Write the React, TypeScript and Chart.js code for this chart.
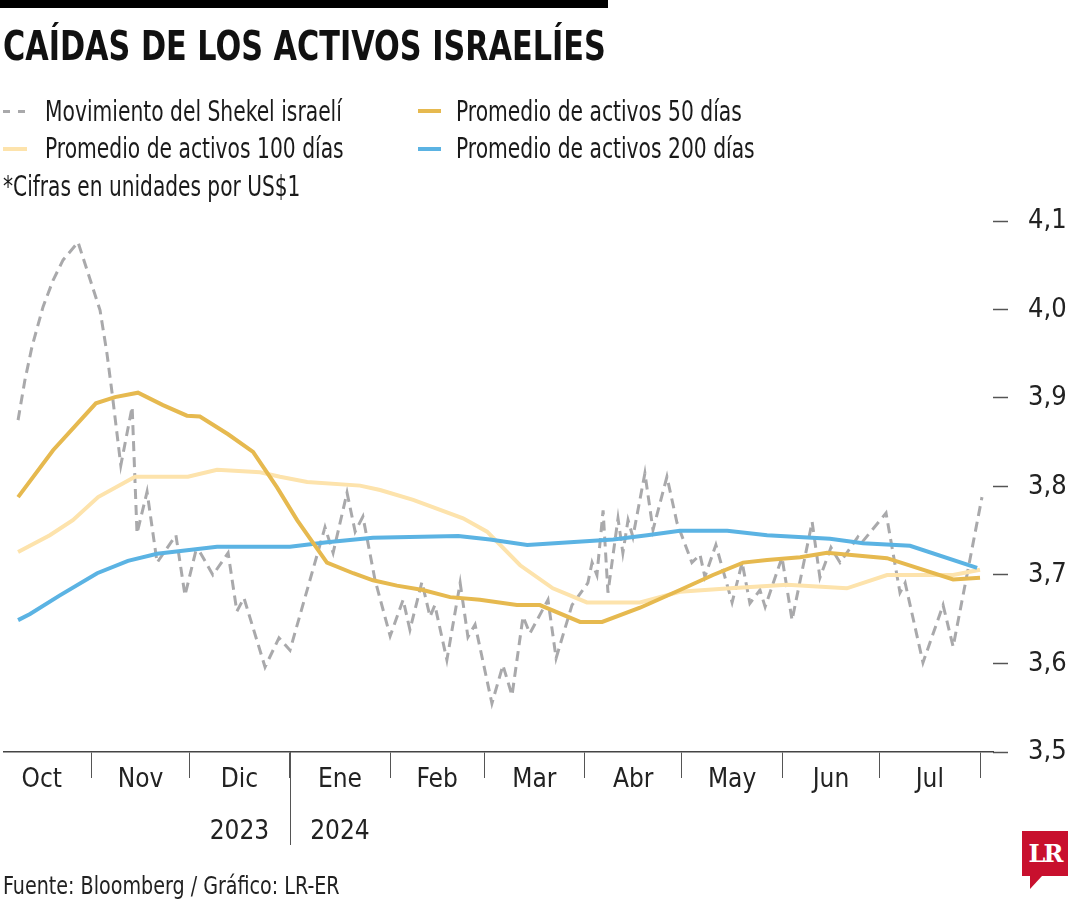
import React, { useEffect, useRef } from 'react';
import { Chart, registerables } from 'chart.js';

Chart.register(...registerables);

// ---------- DATA (x = days since 1 Oct 2023, y = shekels per US$1) ----------
const monthLabels = ['Oct', 'Nov', 'Dic', 'Ene', 'Feb', 'Mar', 'Abr', 'May', 'Jun', 'Jul'];
const yearLabels = ['', '', '2023', '2024', '', '', '', '', '', ''];
const monthStartDays = [0, 31, 61, 92, 123, 152, 183, 213, 244, 274, 305];
const yearStartDay = 92;

const shekelDays = [
  8.2, 10.3, 12.5, 15.9, 19.0, 22.1, 26.7, 29.8, 33.5, 35.6, 37.2, 39.9, 43.4, 44.9, 48.0,
  51.1, 56.9, 59.7, 63.1, 64.3, 68.3, 73.0, 75.7, 77.9, 84.4, 88.7, 92.1, 102.9, 105.4, 109.7,
  112.2, 114.6, 118.3, 123.0, 127.0, 129.1, 132.8, 135.3, 136.8, 140.5, 144.6, 147.0, 149.2,
  154.4, 157.8, 160.6, 164.0, 166.1, 171.7, 174.2, 179.1, 184.0, 185.3, 186.8, 188.7, 190.2,
  193.3, 194.8, 196.4, 197.9, 201.6, 204.1, 208.4, 211.5, 216.1, 218.6, 220.1, 223.5, 228.5,
  231.6, 234.0, 237.1, 238.7, 243.9, 247.0, 253.2, 255.6, 259.0, 261.8, 267.3, 268.6, 276.0,
  280.3, 281.9, 287.4, 293.6, 296.7, 305.6,
];
const shekelValues = [
  3.875, 3.92, 3.958, 4.003, 4.033, 4.056, 4.076, 4.041, 3.999, 3.951, 3.906, 3.824, 3.89, 3.747, 3.794,
  3.714, 3.745, 3.677, 3.728, 3.726, 3.7, 3.725, 3.659, 3.674, 3.596, 3.629, 3.615, 3.754, 3.725, 3.793,
  3.749, 3.766, 3.695, 3.631, 3.672, 3.638, 3.692, 3.653, 3.666, 3.604, 3.691, 3.63, 3.644,
  3.555, 3.598, 3.564, 3.653, 3.634, 3.672, 3.606, 3.666, 3.691, 3.714, 3.7, 3.773, 3.68,
  3.764, 3.725, 3.762, 3.743, 3.815, 3.751, 3.811, 3.759, 3.714, 3.723, 3.698, 3.734, 3.669,
  3.714, 3.668, 3.683, 3.664, 3.72, 3.649, 3.76, 3.697, 3.731, 3.714, 3.743, 3.737, 3.77,
  3.68, 3.691, 3.601, 3.666, 3.619, 3.788,
];

const ma50Days = [
  8.2, 19.0, 32.2, 38.1, 45.2, 52.9, 60.3, 64.3, 73.0, 80.7, 88.1, 94.3, 103.5, 111.6, 117.7,
  125.1, 133.1, 141.5, 150.7, 162.1, 169.2, 181.6, 188.4, 200.1, 212.4, 222.6, 231.9, 239.3,
  249.5, 257.8, 276.3, 296.7, 305.0,
];
const ma50Values = [
  3.788, 3.841, 3.894, 3.901, 3.906, 3.892, 3.88, 3.879, 3.859, 3.839, 3.799, 3.762, 3.714, 3.702, 3.694,
  3.688, 3.683, 3.675, 3.672, 3.666, 3.666, 3.647, 3.647, 3.663, 3.683, 3.7, 3.714, 3.717,
  3.72, 3.725, 3.719, 3.695, 3.697,
];

const ma100Days = [
  8.2, 18.0, 25.1, 32.9, 44.3, 60.6, 69.6, 82.9, 89.0, 97.4, 113.7, 119.9, 130.1, 145.5, 152.9,
  163.1, 173.2, 183.7, 200.1, 212.4, 227.9, 245.5, 263.9, 276.3, 296.7, 305.0,
];
const ma100Values = [
  3.726, 3.745, 3.762, 3.788, 3.811, 3.811, 3.819, 3.816, 3.811, 3.805, 3.801, 3.796, 3.785, 3.764, 3.749,
  3.711, 3.685, 3.669, 3.669, 3.681, 3.685, 3.689, 3.685, 3.7, 3.7, 3.706,
];

const ma200Days = [
  8.2, 11.9, 21.1, 32.6, 42.1, 51.1, 69.6, 92.1, 103.5, 117.7, 144.0, 153.8, 165.3, 191.8, 202.3,
  212.4, 227.0, 239.3, 258.7, 268.9, 283.4, 304.1,
];
const ma200Values = [
  3.649, 3.656, 3.677, 3.702, 3.716, 3.724, 3.732, 3.732, 3.737, 3.742, 3.744, 3.74, 3.734, 3.74, 3.745,
  3.75, 3.75, 3.745, 3.741, 3.736, 3.733, 3.708,
];

const yMin = 3.5;
const yMax = 4.1;
const yStep = 0.1;
const xMin = 3.86;
const xMax = 309.0;

const seriesLabels = [
  'Movimiento del Shekel israelí',
  'Promedio de activos 50 días',
  'Promedio de activos 100 días',
  'Promedio de activos 200 días',
];
const seriesColors = ['#a9a9ab', '#e6b94f', '#fde3ac', '#5bb3e3'];

const FONT = "'Liberation Sans Narrow', 'Arial Narrow', 'DejaVu Sans Condensed', sans-serif";

const toPoints = (xs: number[], ys: number[]) => xs.map((x, i) => ({ x, y: ys[i] }));

// tick positions: month boundaries (marks) and mid-months (labels)
const midDays = monthLabels.map((_, i) => (monthStartDays[i] + monthStartDays[i + 1]) / 2);
const labelByValue: Record<string, string[] | string> = {};
midDays.forEach((d, i) => {
  labelByValue[String(d)] = yearLabels[i] ? [monthLabels[i], yearLabels[i]] : monthLabels[i];
});
const boundarySet = new Set(monthStartDays.map((d) => String(d)));

const yearDividerPlugin = {
  id: 'yearDivider',
  afterDraw(chart: any) {
    const xs = chart.scales.x;
    const x = Math.round(xs.getPixelForValue(yearStartDay)) + 0.5;
    const ctx = chart.ctx;
    ctx.save();
    ctx.strokeStyle = '#555';
    ctx.lineWidth = 1;
    ctx.beginPath();
    ctx.moveTo(x, chart.chartArea.bottom);
    ctx.lineTo(x, chart.chartArea.bottom + 93);
    ctx.stroke();
    ctx.restore();
  },
};

export default function App() {
  const ref = useRef<HTMLCanvasElement>(null);

  useEffect(() => {
    if (!ref.current) return;
    const chart = new Chart(ref.current, {
      type: 'line',
      data: {
        datasets: [
          {
            label: seriesLabels[1],
            data: toPoints(ma50Days, ma50Values),
            borderColor: seriesColors[1],
            borderWidth: 4,
            pointRadius: 0,
            tension: 0,
            order: 0,
          },
          {
            label: seriesLabels[3],
            data: toPoints(ma200Days, ma200Values),
            borderColor: seriesColors[3],
            borderWidth: 4,
            pointRadius: 0,
            tension: 0,
            order: 1,
          },
          {
            label: seriesLabels[2],
            data: toPoints(ma100Days, ma100Values),
            borderColor: seriesColors[2],
            borderWidth: 4,
            pointRadius: 0,
            tension: 0,
            order: 2,
          },
          {
            label: seriesLabels[0],
            data: toPoints(shekelDays, shekelValues),
            borderColor: seriesColors[0],
            borderWidth: 3,
            borderDash: [10, 6],
            pointRadius: 0,
            tension: 0,
            order: 3,
          },
        ],
      },
      options: {
        responsive: false,
        animation: false,
        devicePixelRatio: 1,
        layout: { padding: { top: 221, left: 4, right: 0, bottom: 0 } },
        plugins: { legend: { display: false }, tooltip: { enabled: false } },
        scales: {
          x: {
            type: 'linear',
            min: xMin,
            max: xMax,
            afterBuildTicks: (scale: any) => {
              const vals = [...monthStartDays.filter((d) => d >= xMin && d <= xMax), ...midDays].sort(
                (a, b) => a - b
              );
              scale.ticks = vals.map((v) => ({ value: v }));
            },
            afterFit: (scale: any) => {
              scale.height = 148;
            },
            border: { display: true, color: '#444', width: 1.5 },
            grid: {
              display: true,
              drawOnChartArea: false,
              drawTicks: true,
              tickLength: 26,
              tickWidth: 1,
              tickColor: (ctx: any) =>
                ctx.tick && boundarySet.has(String(ctx.tick.value)) ? '#555' : 'rgba(0,0,0,0)',
            },
            ticks: {
              autoSkip: false,
              maxRotation: 0,
              minRotation: 0,
              padding: -24,
              color: '#222',
              font: { family: FONT, size: 26, lineHeight: 2 },
              callback: (v: any) => labelByValue[String(v)] ?? '',
            },
          },
          y: {
            position: 'right',
            min: yMin,
            max: yMax,
            afterFit: (scale: any) => {
              scale.width = 87;
            },
            border: { display: false },
            grid: {
              display: true,
              drawOnChartArea: false,
              drawTicks: true,
              tickLength: 15,
              tickWidth: 1.5,
              tickColor: '#555',
            },
            ticks: {
              stepSize: yStep,
              padding: 20,
              color: '#222',
              font: { family: FONT, size: 27 },
              callback: (v: any) => Number(v).toFixed(1).replace('.', ','),
            },
          },
        },
      },
      plugins: [yearDividerPlugin],
    } as any);
    return () => chart.destroy();
  }, []);

  const textBase = (sx: number): React.CSSProperties => ({
    position: 'absolute',
    fontFamily: FONT,
    whiteSpace: 'nowrap',
    color: '#1a1a1a',
    transform: `scaleX(${sx})`,
    transformOrigin: '0 0',
  });

  return (
    <div
      style={{
        position: 'fixed',
        left: 0,
        top: 0,
        width: 1080,
        height: 900,
        background: '#fff',
        overflow: 'hidden',
      }}
    >
      <canvas
        ref={ref}
        width={1080}
        height={900}
        style={{ position: 'absolute', left: 0, top: 0, width: 1080, height: 900 }}
      />
      <div style={{ position: 'absolute', left: 0, top: 0, width: 608, height: 8, background: '#000' }} />
      <div style={{ ...textBase(0.842), left: 3, top: 26, fontSize: 40, lineHeight: '40px', fontWeight: 700, color: '#111' }}>
        CAÍDAS DE LOS ACTIVOS ISRAELÍES
      </div>

      {/* legend */}
      <div style={{ position: 'absolute', left: 3, top: 110, width: 7, height: 2.5, background: seriesColors[0] }} />
      <div style={{ position: 'absolute', left: 18, top: 110, width: 7, height: 2.5, background: seriesColors[0] }} />
      <div style={{ ...textBase(0.805), left: 45, top: 98, fontSize: 28, lineHeight: '28px' }}>{seriesLabels[0]}</div>

      <div style={{ position: 'absolute', left: 418, top: 109, width: 23, height: 4, background: seriesColors[1] }} />
      <div style={{ ...textBase(0.805), left: 456, top: 98, fontSize: 28, lineHeight: '28px' }}>{seriesLabels[1]}</div>

      <div style={{ position: 'absolute', left: 3, top: 147, width: 24, height: 4, background: seriesColors[2] }} />
      <div style={{ ...textBase(0.805), left: 45, top: 135, fontSize: 28, lineHeight: '28px' }}>{seriesLabels[2]}</div>

      <div style={{ position: 'absolute', left: 418, top: 147, width: 23, height: 4, background: seriesColors[3] }} />
      <div style={{ ...textBase(0.805), left: 456, top: 135, fontSize: 28, lineHeight: '28px' }}>{seriesLabels[3]}</div>

      <div style={{ ...textBase(0.8), left: 3, top: 173, fontSize: 28, lineHeight: '28px' }}>*Cifras en unidades por US$1</div>

      {/* footer */}
      <div style={{ ...textBase(0.85), left: 3, top: 873, fontSize: 25, lineHeight: '25px', color: '#222' }}>
        Fuente: Bloomberg / Gráfico: LR-ER
      </div>

      {/* logo */}
      <div
        style={{
          position: 'absolute',
          left: 1022,
          top: 831,
          width: 46,
          height: 45,
          background: '#c8102e',
          color: '#fff',
          fontFamily: "'DejaVu Serif', 'Liberation Serif', serif",
          fontWeight: 700,
          fontSize: 24,
          lineHeight: '45px',
          textAlign: 'center',
          letterSpacing: -2,
        }}
      >
        LR
      </div>
      <div
        style={{
          position: 'absolute',
          left: 1030,
          top: 876,
          width: 0,
          height: 0,
          borderTop: '13px solid #c8102e',
          borderRight: '12px solid transparent',
        }}
      />
    </div>
  );
}
